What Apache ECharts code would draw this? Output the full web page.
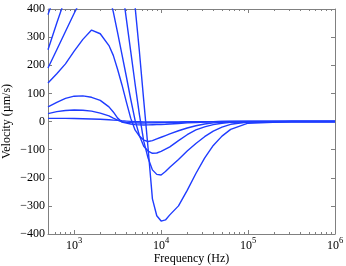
<!DOCTYPE html>
<html><head><meta charset="utf-8">
<script src="https://cdn.jsdelivr.net/npm/echarts@6/dist/echarts.min.js"></script>
<style>html,body{margin:0;padding:0;background:#fff}#c{width:346px;height:266px}</style>
</head><body><div id="c"></div>
<script>
const freqs = [500, 631, 794, 1000, 1259, 1585, 1995, 2512, 2818, 3162, 3548, 3981, 4467, 5012, 5623, 6310, 7079, 7943, 8913, 10000, 11220, 12589, 15849, 19953, 25119, 31623, 39811, 50119, 63096, 100000, 316228, 1000000];
const curveA = [380, 470, 560, 650, 730, 790, 820, 800, 760, 700, 630, 560, 480, 410, 250, 75, -95, -275, -335, -354, -350, -332, -300, -245, -185, -130, -85, -52, -28, -6, 0, 0];
const curveB = [255, 350, 440, 530, 600, 640, 650, 620, 590, 545, 480, 365, 250, 135, 25, -70, -130, -172, -188, -190, -178, -163, -135, -105, -78, -54, -34, -20, -10, -2, 0, 0];
const curveC = [190, 255, 320, 385, 445, 490, 500, 450, 390, 315, 238, 160, 80, 5, -50, -88, -105, -113, -112, -106, -98, -90, -68, -47, -30, -19, -11, -6, -3, -1, 0, 0];
const curveD = [137, 170, 205, 250, 292, 325, 312, 270, 235, 185, 130, 70, 12, -30, -52, -66, -71, -68, -62, -56, -50, -44, -33, -23, -15, -9, -5, -3, -1, 0, 0, 0];
const curveE = [52, 68, 82, 90, 91, 86, 75, 52, 34, 12, -2, -6, -9, -11, -12, -12.5, -12, -11.5, -11, -10.5, -10, -9, -7, -5, -3.5, -2, -1, -0.5, 0, 0, 0, 0];
const curveF = [28, 35, 39, 41, 40, 37, 30, 20, 12, 5, -1, -3, -4, -5, -5.5, -5.5, -5, -5, -4.5, -4, -4, -3.5, -3, -2, -1.5, -1, -0.5, 0, 0, 0, 0, 0];
const curveG = [11, 11, 11, 10.5, 10, 9, 8, 6, 5, 4, 2.5, 1.5, 0.5, -0.5, -1, -1.5, -2, -2, -2, -2, -2, -1.8, -1.5, -1, -0.7, -0.5, -0.3, 0, 0, 0, 0, 0];
const curves = [curveA, curveB, curveC, curveD, curveE, curveF, curveG];
const xMajorTicks = [1000, 10000, 100000, 1000000];
const xMinorTicks = [600, 700, 800, 900, 2000, 3000, 4000, 5000, 6000, 7000, 8000, 9000, 20000, 30000, 40000, 50000, 60000, 70000, 80000, 90000, 200000, 300000, 400000, 500000, 600000, 700000, 800000, 900000];
const yMin = -400, yMax = 400, yStep = 100;

const FONT = 'Liberation Serif';
const AX = '#808080';
const BLUE = '#1f3cff';
const G = {left: 48, right: 11, top: 9, bottom: 32, outerBoundsMode: 'none', containLabel: false};

const chart = echarts.init(document.getElementById('c'), null, {renderer: 'canvas'});
const xBase = (pos, ticks, len, showLine, extra) => Object.assign({
  type: 'log', logBase: 10, min: 500, max: 1000000, position: pos,
  axisLine: {show: showLine, onZero: false, lineStyle: {color: AX, width: 1}},
  axisTick: {show: true, inside: true, length: len, customValues: ticks, lineStyle: {color: AX, width: 1}},
  axisLabel: {show: false},
  splitLine: {show: false}, minorTick: {show: false}
}, extra || {});
const yBase = (pos, extra) => Object.assign({
  type: 'value', min: yMin, max: yMax, interval: yStep, position: pos,
  axisLine: {show: true, onZero: false, lineStyle: {color: AX, width: 1}},
  axisTick: {show: true, inside: true, length: 4, lineStyle: {color: AX, width: 1}},
  axisLabel: {show: false},
  splitLine: {show: false}
}, extra || {});

const option = {
  animation: false,
  backgroundColor: '#fff',
  grid: [Object.assign({}, G), Object.assign({}, G)],
  xAxis: [
    xBase('bottom', xMajorTicks, 4, true, {
      gridIndex: 0,
      axisLabel: {
        show: true, customValues: xMajorTicks, margin: 2,
        formatter: v => '{b|10}{s|' + Math.round(Math.log10(v)) + '}',
        rich: {
          b: {fontFamily: FONT, fontSize: 12, color: '#000', lineHeight: 20},
          s: {fontFamily: FONT, fontSize: 8.5, color: '#000', lineHeight: 9, verticalAlign: 'top'}
        }
      },
      name: 'Frequency (Hz)', nameLocation: 'middle', nameGap: 18.5, nameMoveOverlap: false,
      nameTextStyle: {fontFamily: FONT, fontSize: 12, color: '#000', verticalAlign: 'top'}
    }),
    xBase('top', xMajorTicks, 4, true, {gridIndex: 0}),
    xBase('bottom', xMinorTicks, 2, false, {gridIndex: 1}),
    xBase('top', xMinorTicks, 2, false, {gridIndex: 1})
  ],
  yAxis: [
    yBase('left', {
      gridIndex: 0,
      axisLabel: {show: true, margin: 3, fontFamily: FONT, fontSize: 12, color: '#000',
        formatter: v => v < 0 ? '\u2212' + (-v) : String(v)},
      name: 'Velocity (\u00b5m/s)', nameLocation: 'middle', nameGap: 35, nameRotate: 90, nameMoveOverlap: false,
      nameTextStyle: {fontFamily: FONT, fontSize: 12, color: '#000'}
    }),
    yBase('right', {gridIndex: 0}),
    yBase('left', {gridIndex: 1, show: false})
  ],
  series: curves.map(c => ({
    type: 'line', xAxisIndex: 0, yAxisIndex: 0,
    data: freqs.map((f, j) => [f, c[j]]),
    symbol: 'none', smooth: false, clip: true,
    lineStyle: {color: BLUE, width: 1.4}
  }))
};
chart.setOption(option);
</script></body></html>
